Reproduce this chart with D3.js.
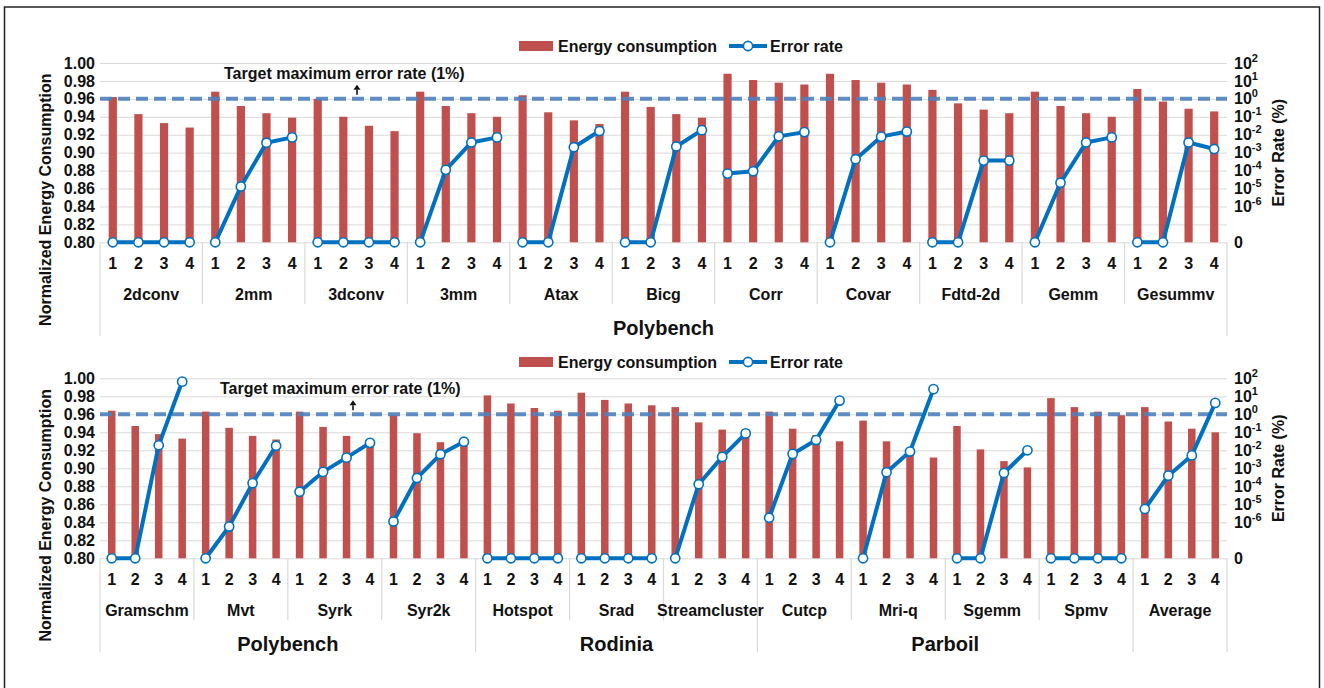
<!DOCTYPE html>
<html>
<head>
<meta charset="utf-8">
<script src="https://cdn.jsdelivr.net/npm/d3@7"></script>
<style>
  body { margin: 0; background: #fff; }
  svg text { font-family: "Liberation Sans", Arial, sans-serif; font-weight: bold; fill: #111; }
  .grid line { stroke: #d9d9d9; stroke-width: 1; }
  .grid .domain { display: none; }
  .sep { stroke: #d9d9d9; stroke-width: 1.2; }
  .bar { fill: #c0504d; }
  .err-line { fill: none; stroke: #0070c0; stroke-width: 4; stroke-linejoin: round; }
  .err-dot { fill: #fff; stroke: #0070c0; stroke-width: 1.6; }
  .target { stroke: #4f81bd; stroke-width: 4; stroke-dasharray: 12 6; opacity: 0.9; }
</style>
</head>
<body>
<svg id="chart" width="1324" height="688"></svg>
<script>
// config levels shown under every benchmark
const levels = ["1", "2", "3", "4"];

// upper panel (all Polybench)
const topGroups = ["2dconv", "2mm", "3dconv", "3mm", "Atax", "Bicg", "Corr", "Covar", "Fdtd-2d", "Gemm", "Gesummv"];
const topEnergy = [
  [0.962, 0.943, 0.933, 0.928],
  [0.968, 0.952, 0.944, 0.939],
  [0.960, 0.940, 0.930, 0.924],
  [0.968, 0.952, 0.944, 0.940],
  [0.964, 0.945, 0.936, 0.932],
  [0.968, 0.951, 0.943, 0.939],
  [0.988, 0.981, 0.978, 0.976],
  [0.988, 0.981, 0.978, 0.976],
  [0.970, 0.955, 0.948, 0.944],
  [0.968, 0.952, 0.944, 0.940],
  [0.971, 0.957, 0.949, 0.946]
];
// error rate in %, 0 means no error
const topError = [
  [0, 0, 0, 0],
  [0, 1.3e-5, 3.6e-3, 7.1e-3],
  [0, 0, 0, 0],
  [0, 1.1e-4, 3.7e-3, 7.1e-3],
  [0, 0, 2.0e-3, 1.6e-2],
  [0, 0, 2.2e-3, 1.8e-2],
  [6.8e-5, 9.1e-5, 8.1e-3, 1.4e-2],
  [0, 4.3e-4, 7.8e-3, 1.5e-2],
  [0, 0, 3.6e-4, 3.6e-4],
  [0, 2.1e-5, 3.7e-3, 7.1e-3],
  [0, 0, 3.7e-3, 1.6e-3]
];
const topSuiteNames = ["Polybench"];
const topSuiteSizes = [11];

// lower panel
const bottomGroups = ["Gramschm", "Mvt", "Syrk", "Syr2k", "Hotspot", "Srad", "Streamcluster", "Cutcp", "Mri-q", "Sgemm", "Spmv", "Average"];
const bottomEnergy = [
  [0.964, 0.947, 0.938, 0.933],
  [0.963, 0.945, 0.936, 0.932],
  [0.963, 0.946, 0.936, 0.927],
  [0.959, 0.939, 0.929, 0.925],
  [0.981, 0.972, 0.967, 0.964],
  [0.984, 0.976, 0.972, 0.970],
  [0.968, 0.951, 0.943, 0.936],
  [0.963, 0.944, 0.937, 0.930],
  [0.953, 0.930, 0.920, 0.912],
  [0.947, 0.921, 0.908, 0.901],
  [0.978, 0.968, 0.963, 0.959],
  [0.968, 0.952, 0.944, 0.940]
];
const bottomError = [
  [0, 0, 1.9e-2, 65],
  [0, 5.8e-7, 1.5e-4, 1.8e-2],
  [5.0e-5, 6.3e-4, 3.9e-3, 2.6e-2],
  [1.1e-6, 2.9e-4, 6.0e-3, 3.0e-2],
  [0, 0, 0, 0],
  [0, 0, 0, 0],
  [0, 1.3e-4, 4.3e-3, 8.7e-2],
  [1.8e-6, 6.3e-3, 3.7e-2, 5.8],
  [0, 6.0e-4, 8.5e-3, 25],
  [0, 0, 5.5e-4, 1.0e-2],
  [0, 0, 0, 0],
  [5.5e-6, 3.9e-4, 5.2e-3, 4.3]
];
const bottomSuiteNames = ["Polybench", "Rodinia", "Parboil", ""];
const bottomSuiteSizes = [4, 3, 4, 1];

// axes
const energyTicks = [0.80, 0.82, 0.84, 0.86, 0.88, 0.90, 0.92, 0.94, 0.96, 0.98, 1.00];
const errorTickExps = [2, 1, 0, -1, -2, -3, -4, -5, -6];
const targetError = 1; // %

const svg = d3.select("#chart");

// outer frame
svg.append("rect")
  .attr("x", 4.5).attr("y", 7)
  .attr("width", 1315).attr("height", 700)
  .attr("fill", "none").attr("stroke", "#222").attr("stroke-width", 1.5);

function drawPanel(p) {
  const left = 100, right = 1227;
  const y = d3.scaleLinear().domain([0.80, 1.00]).range([p.y0, p.y1]);
  // error axis: log part sits on 0.84..1.00, zero goes to the baseline
  const yErr = d3.scaleLog().domain([1e-6, 1e2]).range([y(0.84), y(1.00)]);
  const errPos = e => e === 0 ? y(0.80) : yErr(e);

  const xGroup = d3.scaleBand().domain(p.groups).range([left, right]);
  const xSub = d3.scaleBand().domain(levels).range([0, xGroup.bandwidth()])
    .paddingInner(0.68).paddingOuter(0.34);
  const cx = (g, l) => xGroup(g) + xSub(l) + xSub.bandwidth() / 2;

  const g = svg.append("g");

  // gridlines + left labels
  const gridAxis = d3.axisLeft(y).tickValues(energyTicks).tickSize(-(right - left))
    .tickPadding(5).tickFormat(d3.format(".2f"));
  const ga = g.append("g").attr("class", "grid").attr("transform", `translate(${left},0)`).call(gridAxis);
  ga.selectAll("text").style("font-size", "16px").attr("fill", "#111");

  // right axis
  const ra = g.append("g").attr("class", "grid").attr("transform", `translate(${right},0)`)
    .call(d3.axisRight(yErr).tickValues(errorTickExps.map(e => Math.pow(10, e)))
      .tickSize(0).tickPadding(7).tickFormat(""));
  ra.selectAll(".tick text").each(function (d) {
    const t = d3.select(this).style("font-size", "16px");
    t.text("10");
    t.append("tspan").attr("dy", -7).style("font-size", "11px")
      .text(String(Math.round(Math.log10(d))));
  });
  g.append("text").attr("x", right + 7).attr("y", errPos(0)).attr("dy", "0.35em")
    .style("font-size", "16px").text("0");

  // separators
  const base = y(0.80);
  const suiteEdges = [0];
  p.suiteSizes.reduce((a, s) => { suiteEdges.push(a + s); return a + s; }, 0);
  p.groups.forEach((grp, i) => {
    if (i === 0) return;
    const isSuite = suiteEdges.includes(i);
    g.append("line").attr("class", "sep")
      .attr("x1", xGroup(grp)).attr("x2", xGroup(grp))
      .attr("y1", base).attr("y2", base + (isSuite ? 94 : 62));
  });
  [left, right].forEach(x => g.append("line").attr("class", "sep")
    .attr("x1", x).attr("x2", x).attr("y1", base).attr("y2", base + 94));

  // bars
  const barData = [];
  p.groups.forEach((grp, i) => levels.forEach((l, j) => barData.push({ grp, l, v: p.energy[i][j] })));
  g.selectAll(".bar").data(barData).join("rect").attr("class", "bar")
    .attr("x", d => xGroup(d.grp) + xSub(d.l))
    .attr("width", xSub.bandwidth())
    .attr("y", d => y(d.v))
    .attr("height", d => y(0.80) - y(d.v));

  // target line + label
  g.append("line").attr("class", "target")
    .attr("x1", left).attr("x2", right)
    .attr("y1", errPos(targetError)).attr("y2", errPos(targetError));
  g.append("text").attr("x", p.targetX).attr("y", y(1.00) + 16)
    .style("font-size", "16px").text("Target maximum error rate (1%)");
  const ax = p.targetX + 133, ay = errPos(targetError) - 4;
  g.append("line").attr("x1", ax).attr("x2", ax).attr("y1", ay).attr("y2", ay - 5)
    .attr("stroke", "#111").attr("stroke-width", 1.6);
  g.append("path").attr("d", `M${ax - 3.5},${ay - 5}L${ax + 3.5},${ay - 5}L${ax},${ay - 10}Z`).attr("fill", "#111");

  // error lines, one per benchmark
  const line = d3.line().x(d => cx(d.grp, d.l)).y(d => errPos(d.e));
  p.groups.forEach((grp, i) => {
    const pts = levels.map((l, j) => ({ grp, l, e: p.error[i][j] }));
    g.append("path").datum(pts).attr("class", "err-line").attr("d", line);
    g.selectAll(null).data(pts).join("circle").attr("class", "err-dot")
      .attr("cx", d => cx(d.grp, d.l)).attr("cy", d => errPos(d.e)).attr("r", 4.6);
  });

  // x labels
  p.groups.forEach(grp => {
    levels.forEach(l => g.append("text").attr("x", cx(grp, l)).attr("y", base + 27)
      .attr("text-anchor", "middle").style("font-size", "16px").text(l));
    g.append("text").attr("x", xGroup(grp) + xGroup.bandwidth() / 2).attr("y", base + 58)
      .attr("text-anchor", "middle").style("font-size", "16px").text(grp);
  });
  let start = 0;
  p.suiteNames.forEach((name, k) => {
    const a = xGroup(p.groups[start]);
    const b = xGroup(p.groups[start + p.suiteSizes[k] - 1]) + xGroup.bandwidth();
    g.append("text").attr("x", (a + b) / 2).attr("y", base + 93)
      .attr("text-anchor", "middle").style("font-size", "20px").text(name);
    start += p.suiteSizes[k];
  });

  // axis titles
  g.append("text").attr("transform", `translate(51,${(y(1.00) + base + 94) / 2}) rotate(-90)`)
    .attr("text-anchor", "middle").style("font-size", "16px").text("Normalized Energy Consumption");
  g.append("text").attr("transform", `translate(1284,${(y(1.00) + base) / 2}) rotate(-90)`)
    .attr("text-anchor", "middle").style("font-size", "16px").text("Error Rate (%)");

  // legend
  const ly = p.legendY;
  g.append("rect").attr("x", 519).attr("y", ly - 5).attr("width", 34).attr("height", 10).attr("fill", "#c0504d");
  g.append("text").attr("x", 558).attr("y", ly).attr("dy", "0.35em").style("font-size", "16px").text("Energy consumption");
  g.append("line").attr("x1", 729).attr("x2", 767).attr("y1", ly).attr("y2", ly)
    .attr("stroke", "#0070c0").attr("stroke-width", 4);
  g.append("circle").attr("class", "err-dot").attr("cx", 748).attr("cy", ly).attr("r", 4.6);
  g.append("text").attr("x", 770).attr("y", ly).attr("dy", "0.35em").style("font-size", "16px").text("Error rate");
}

drawPanel({
  groups: topGroups, energy: topEnergy, error: topError,
  suiteNames: topSuiteNames, suiteSizes: topSuiteSizes,
  y0: 242.3, y1: 63, legendY: 46, targetX: 224
});
drawPanel({
  groups: bottomGroups, energy: bottomEnergy, error: bottomError,
  suiteNames: bottomSuiteNames, suiteSizes: bottomSuiteSizes,
  y0: 558.3, y1: 378.3, legendY: 362, targetX: 220
});
</script>
</body>
</html>
